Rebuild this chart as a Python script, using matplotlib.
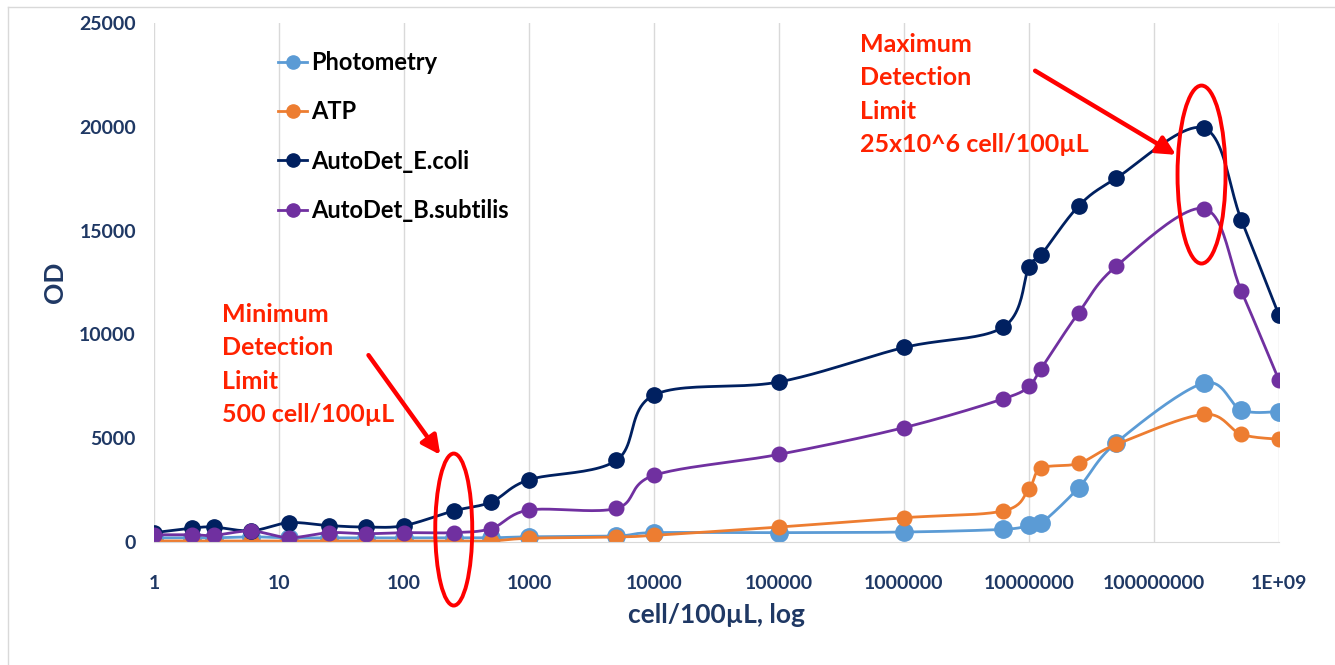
import numpy as np
import matplotlib
matplotlib.use("Agg")
import matplotlib.pyplot as plt
from matplotlib.patches import Ellipse
from matplotlib.lines import Line2D
from matplotlib.transforms import ScaledTranslation

plt.rcParams["font.family"] = ["Lato", "DejaVu Sans"]
plt.rcParams["font.weight"] = "bold"
plt.rcParams["axes.labelweight"] = "bold"

# cell/100uL dilution series
cells = [1, 2, 3, 6, 12, 25, 50, 100, 250, 500, 1000, 5000, 10000, 1e5, 1e6,
         6.25e6, 1e7, 1.25e7, 2.5e7, 5e7, 2.5e8, 5e8, 1e9]
photometry = [200, 200, 200, 250, 200, 200, 200, 200, 200, 200, 250, 290, 450,
              450, 480, 610, 800, 900, 2620, 4790, 7650, 6360, 6280]
atp = [50, 50, 50, 50, 50, 50, 50, 50, 50, 50, 180, 240, 320, 720, 1170, 1500,
       2570, 3550, 3790, 4700, 6150, 5190, 4950]
ecoli = [450, 670, 720, 540, 930, 790, 720, 790, 1500, 1930, 3000, 3930, 7080,
         7710, 9370, 10360, 13250, 13830, 16190, 17530, 19940, 15510, 10920]
bsub = [350, 350, 320, 530, 210, 450, 400, 450, 450, 650, 1540, 1620, 3210,
        4220, 5510, 6900, 7510, 8350, 11050, 13290, 16060, 12080, 7790]

x_ticks = [1, 10, 100, 1000, 1e4, 1e5, 1e6, 1e7, 1e8, 1e9]
x_ticklabels = ["1", "10", "100", "1000", "10000", "100000", "1000000",
                "10000000", "100000000", "1E+09"]
y_ticks = [0, 5000, 10000, 15000, 20000, 25000]

series = [("Photometry", photometry, "#5B9BD5", 12.5),
          ("ATP", atp, "#ED7D31", 10.5),
          ("AutoDet_E.coli", ecoli, "#002060", 11),
          ("AutoDet_B.subtilis", bsub, "#7030A0", 10.5)]

NAVY = "#1F3864"
RED = "#FF2200"


def smooth(xs, ys, n=24):
    # Excel-like smoothed line: Bezier segments, computed in log-x space
    lx = np.log10(np.asarray(xs, float))
    y = np.asarray(ys, float)
    px, py = [], []
    for i in range(len(lx) - 1):
        i0, i3 = max(i - 1, 0), min(i + 2, len(lx) - 1)
        c1x = lx[i] + (lx[i + 1] - lx[i0]) / 6
        c1y = y[i] + (y[i + 1] - y[i0]) / 6
        c2x = lx[i + 1] - (lx[i3] - lx[i]) / 6
        c2y = y[i + 1] - (y[i3] - y[i]) / 6
        t = np.linspace(0, 1, n)
        a, b, c, d = (1 - t) ** 3, 3 * (1 - t) ** 2 * t, 3 * (1 - t) * t ** 2, t ** 3
        px.append(a * lx[i] + b * c1x + c * c2x + d * lx[i + 1])
        py.append(a * y[i] + b * c1y + c * c2y + d * y[i + 1])
    return 10 ** np.concatenate(px), np.concatenate(py)


fig = plt.figure(figsize=(13.35, 6.65), dpi=100)
ax = fig.add_axes([154 / 1335, 1 - 542 / 665, (1279 - 154) / 1335, (542 - 23) / 665])

handles = []
for name, vals, col, ms in series:
    sx, sy = smooth(cells, vals)
    ax.plot(sx, sy, color=col, lw=2, solid_capstyle="round")
    ax.plot(cells, vals, "o", color=col, ms=ms, mec=col)
    handles.append(Line2D([], [], color=col, lw=2, marker="o", ms=9.5, label=name))

ax.set_xscale("log")
ax.set_xlim(1, 1e9)
ax.set_ylim(0, 25000)
ax.set_xticks(x_ticks)
ax.set_xticklabels(x_ticklabels)
ax.minorticks_off()
ax.set_yticks(y_ticks)
ax.tick_params(axis="both", length=0, labelsize=14, labelcolor=NAVY)
ax.tick_params(axis="x", pad=24)
ax.tick_params(axis="y", pad=13)
ax.grid(axis="x", color="#D9D9D9", lw=1)
ax.set_axisbelow(True)
for s in ["top", "right", "left"]:
    ax.spines[s].set_visible(False)
ax.spines["bottom"].set_color("#D9D9D9")
ax.set_xlabel("cell/100\u00b5L, log", fontsize=19, color=NAVY, labelpad=8)
ax.set_ylabel("OD", fontsize=19, color=NAVY, labelpad=9)

leg = ax.legend(handles=handles, loc="upper left", bbox_to_anchor=(266 / 1335, 1 - 39 / 665),
                bbox_transform=fig.transFigure, frameon=False, fontsize=17,
                handlelength=1.25, handletextpad=0.15, labelspacing=1.12, borderpad=0)

# red annotations
txt_kw = dict(color=RED, fontsize=18, linespacing=1.55, va="top", ha="left")
fig.text(222 / 1335, 1 - 303 / 665, "Minimum\nDetection\nLimit\n500 cell/100\u00b5L", **txt_kw)
fig.text(860 / 1335, 1 - 33 / 665, "Maximum\nDetection\nLimit\n25x10^6 cell/100\u00b5L", **txt_kw)

arrow = dict(arrowstyle="-|>", color="red", lw=3.2, mutation_scale=28, shrinkA=0, shrinkB=0)
ax.annotate("", xy=(195, 4200), xytext=(52, 9000), arrowprops=arrow)
ax.annotate("", xy=(1.5e8, 18650), xytext=(1.12e7, 22700), arrowprops=arrow)

for (cx, cy), (w, h) in [((250, 600), (0.37, 1.52)), ((2.4e8, 17700), (0.48, 1.78))]:
    tr = fig.dpi_scale_trans + ScaledTranslation(cx, cy, ax.transData)
    ax.add_patch(Ellipse((0, 0), w, h, transform=tr, fill=False, ec="red", lw=2.8,
                         clip_on=False, zorder=5))

# outer frame (left and top edges visible)
fig.add_artist(Line2D([8 / 1335, 8 / 1335], [0, 1 - 7 / 665], color="#D9D9D9", lw=1))
fig.add_artist(Line2D([8 / 1335, 1], [1 - 7 / 665, 1 - 7 / 665], color="#D9D9D9", lw=1))

fig.savefig("out.png", dpi=100)
